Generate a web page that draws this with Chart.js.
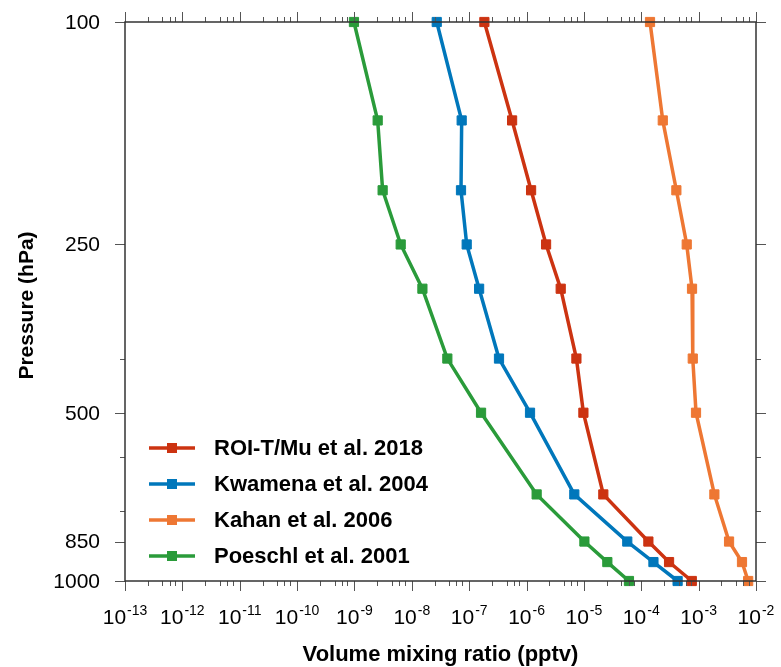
<!DOCTYPE html>
<html>
<head>
<meta charset="utf-8">
<script src="https://cdn.jsdelivr.net/npm/chart.js@4.4.1/dist/chart.umd.min.js"></script>
<style>
  html, body { margin: 0; padding: 0; background: #fff; }
</style>
</head>
<body>
<canvas id="profile" width="781" height="667"></canvas>
<script>
// pressure levels (hPa) and mixing ratios (pptv)
const pressure = [100, 150, 200, 250, 300, 400, 500, 700, 850, 925, 1000];
const roiT     = [1.84e-7, 5.6e-7, 1.2e-6, 2.19e-6, 3.94e-6, 7.4e-6, 9.8e-6, 2.18e-5, 1.33e-4, 3.05e-4, 7.6e-4];
const kwamena  = [2.72e-8, 7.4e-8, 7.2e-8, 9.05e-8, 1.49e-7, 3.31e-7, 1.15e-6, 6.8e-6, 5.7e-5, 1.63e-4, 4.3e-4];
const kahan    = [1.42e-4, 2.37e-4, 4.09e-4, 6.2e-4, 7.67e-4, 7.9e-4, 9.0e-4, 1.88e-3, 3.39e-3, 5.7e-3, 7.3e-3];
const poeschl  = [9.8e-10, 2.54e-9, 3.1e-9, 6.4e-9, 1.53e-8, 4.16e-8, 1.61e-7, 1.5e-6, 1.02e-5, 2.56e-5, 6.1e-5];

const seriesNames = ['ROI-T/Mu et al. 2018', 'Kwamena et al. 2004', 'Kahan et al. 2006', 'Poeschl et al. 2001'];
const seriesColors = ['#cc3311', '#0077bb', '#ee7733', '#2a9b3a'];

const xExponents = [-13, -12, -11, -10, -9, -8, -7, -6, -5, -4, -3, -2];
const xMinorMant = [2.5, 4.5, 6, 7.5];
const yTicks = [100, 250, 500, 850, 1000];
const yMinor = [400, 600, 750];

const allSeries = [roiT, kwamena, kahan, poeschl];

const datasets = allSeries.map((vals, i) => ({
    label: seriesNames[i],
    data: vals.map((v, k) => ({ x: v, y: pressure[k] })),
    borderColor: seriesColors[i],
    backgroundColor: seriesColors[i],
    borderWidth: 3.5,
    pointStyle: 'rect',
    pointRadius: 6.5,
    pointBorderWidth: 1,
    pointHoverRadius: 6.5,
    showLine: true,
    tension: 0,
    clip: false
}));

const decor = {
    id: 'decor',
    afterDraw(chart) {
        const ctx = chart.ctx;
        const a = chart.chartArea;
        const xs = chart.scales.x, ys = chart.scales.y;
        ctx.save();

        // ticks, all pointing outward
        ctx.strokeStyle = '#555';
        ctx.lineWidth = 1;
        ctx.beginPath();
        xExponents.forEach((e, i) => {
            const px = Math.round(xs.getPixelForValue(Math.pow(10, e))) + 0.5;
            ctx.moveTo(px, a.top); ctx.lineTo(px, a.top - 10);
            ctx.moveTo(px, a.bottom); ctx.lineTo(px, a.bottom + 10);
            if (i < xExponents.length - 1) {
                xMinorMant.forEach(m => {
                    const mx = Math.round(xs.getPixelForValue(m * Math.pow(10, e))) + 0.5;
                    ctx.moveTo(mx, a.top); ctx.lineTo(mx, a.top - 5);
                    ctx.moveTo(mx, a.bottom); ctx.lineTo(mx, a.bottom + 5);
                });
            }
        });
        yTicks.forEach(p => {
            const py = Math.round(ys.getPixelForValue(p)) + 0.5;
            ctx.moveTo(a.left, py); ctx.lineTo(a.left - 10, py);
            ctx.moveTo(a.right, py); ctx.lineTo(a.right + 10, py);
        });
        yMinor.forEach(p => {
            const py = Math.round(ys.getPixelForValue(p)) + 0.5;
            ctx.moveTo(a.left, py); ctx.lineTo(a.left - 5, py);
            ctx.moveTo(a.right, py); ctx.lineTo(a.right + 5, py);
        });
        ctx.stroke();

        // frame
        ctx.strokeStyle = '#333';
        ctx.lineWidth = 1.5;
        ctx.strokeRect(a.left, a.top, a.right - a.left, a.bottom - a.top);

        // y tick labels
        ctx.fillStyle = '#000';
        ctx.font = '21px "Liberation Sans", Arial, sans-serif';
        ctx.textAlign = 'right';
        ctx.textBaseline = 'middle';
        yTicks.forEach(p => {
            ctx.fillText(String(p), a.left - 25, ys.getPixelForValue(p) + 1);
        });

        // x tick labels: 10 with superscript exponent
        ctx.textBaseline = 'alphabetic';
        ctx.textAlign = 'left';
        xExponents.forEach(e => {
            const px = xs.getPixelForValue(Math.pow(10, e));
            ctx.font = '21px "Liberation Sans", Arial, sans-serif';
            const wb = ctx.measureText('10').width;
            ctx.font = '14px "Liberation Sans", Arial, sans-serif';
            const sup = String(e);
            const we = ctx.measureText(sup).width;
            const x0 = px - (wb + we + 1) / 2;
            ctx.font = '21px "Liberation Sans", Arial, sans-serif';
            ctx.fillText('10', x0, a.bottom + 43);
            ctx.font = '14px "Liberation Sans", Arial, sans-serif';
            ctx.fillText(sup, x0 + wb + 1, a.bottom + 34);
        });

        // axis titles
        ctx.font = 'bold 22px "Liberation Sans", Arial, sans-serif';
        ctx.textAlign = 'center';
        ctx.fillText('Volume mixing ratio (pptv)', (a.left + a.right) / 2, a.bottom + 80);
        ctx.save();
        ctx.translate(33, (a.top + a.bottom) / 2 + 4);
        ctx.rotate(-Math.PI / 2);
        ctx.font = 'bold 21px "Liberation Sans", Arial, sans-serif';
        ctx.fillText('Pressure (hPa)', 0, 0);
        ctx.restore();

        // legend inside plot, lower left
        ctx.font = 'bold 22px "Liberation Sans", Arial, sans-serif';
        ctx.textAlign = 'left';
        ctx.textBaseline = 'middle';
        chart.data.datasets.forEach((ds, i) => {
            const ly = 448 + i * 36;
            ctx.strokeStyle = ds.borderColor;
            ctx.lineWidth = 3.5;
            ctx.beginPath();
            ctx.moveTo(149, ly); ctx.lineTo(195, ly);
            ctx.stroke();
            ctx.fillStyle = ds.borderColor;
            ctx.fillRect(167, ly - 5, 10, 10);
            ctx.fillStyle = '#000';
            ctx.fillText(ds.label, 214, ly + 1);
        });
        ctx.restore();
    }
};

new Chart(document.getElementById('profile'), {
    type: 'scatter',
    data: { datasets: datasets },
    options: {
        responsive: false,
        animation: false,
        devicePixelRatio: 1,
        layout: { padding: { left: 125, right: 25, top: 22, bottom: 86 } },
        scales: {
            x: { type: 'logarithmic', min: 1e-13, max: 1e-2, display: false },
            y: { type: 'logarithmic', min: 100, max: 1000, reverse: true, display: false }
        },
        plugins: {
            legend: { display: false },
            tooltip: { enabled: false }
        }
    },
    plugins: [decor]
});
</script>
</body>
</html>
